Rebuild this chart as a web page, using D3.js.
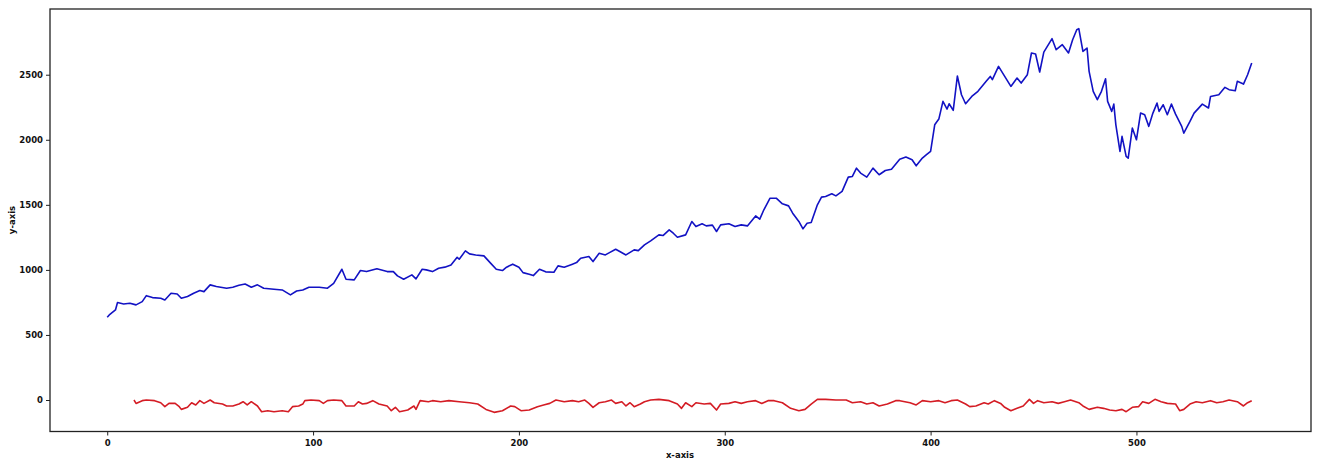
<!DOCTYPE html>
<html>
<head>
<meta charset="utf-8">
<script src="https://cdn.jsdelivr.net/npm/d3@7"></script>
<style>
  body { margin: 0; background: #fff; }
  svg text { font-family: "DejaVu Sans", sans-serif; }
</style>
</head>
<body>
<svg id="chart" width="1319" height="459"></svg>
<script>
// blue series (index, value)
var blueIdx = [0,1,4,5,8,11,14,17,19,22,26,28,31,34,36,39,42,45,47,50,53,58,61,64,67,70,73,76,81,85,89,92,95,98,103,107,110,114,116,120,123,126,131,136,139,141,144,148,150,153,155,158,161,164,167,170,171,174,176,179,183,186,189,192,194,197,200,202,205,207,210,213,217,219,222,226,228,230,234,236,239,242,244,247,249,252,256,258,261,264,268,270,273,275,277,281,284,286,289,291,294,296,298,302,305,308,311,315,317,319,322,325,328,331,333,336,338,340,342,345,347,349,352,354,357,360,362,364,366,369,372,375,378,381,385,388,391,393,396,398,400,402,404,406,408,409,411,413,415,417,420,423,427,429,430,433,436,439,442,444,447,449,451,453,455,459,461,464,467,469,471,472,474,476,477,479,481,483,485,486,488,489,490,492,493,495,496,498,500,502,504,506,508,510,511,513,515,517,519,522,523,526,528,532,535,536,540,543,545,548,549,552,554,556];
var blueVal = [636,654,692,749,738,744,731,756,802,787,782,769,821,815,782,795,821,841,833,885,872,859,867,882,892,867,885,859,851,846,808,838,846,867,867,859,897,1005,928,923,995,987,1008,987,987,954,928,962,931,1005,1000,987,1013,1021,1038,1097,1082,1146,1123,1115,1108,1056,1005,995,1021,1044,1021,979,967,956,1005,985,982,1031,1021,1044,1056,1090,1103,1064,1128,1115,1133,1159,1141,1115,1154,1148,1192,1223,1269,1264,1308,1282,1251,1269,1372,1333,1354,1338,1344,1295,1346,1354,1333,1346,1338,1415,1390,1462,1551,1551,1508,1492,1436,1372,1315,1359,1364,1500,1559,1564,1585,1569,1603,1713,1718,1782,1744,1713,1782,1731,1764,1774,1851,1867,1846,1800,1859,1885,1910,2115,2159,2295,2236,2277,2226,2490,2346,2277,2333,2372,2449,2487,2462,2564,2487,2410,2474,2436,2500,2667,2659,2521,2674,2777,2692,2731,2667,2769,2846,2854,2679,2705,2526,2372,2308,2372,2469,2295,2218,2274,2115,1910,2026,1872,1859,2090,2000,2205,2192,2103,2205,2282,2218,2269,2192,2274,2197,2103,2051,2141,2205,2274,2244,2333,2346,2403,2385,2377,2449,2428,2500,2590];

// red series (index, value)
var redIdx = [13,14,17,19,23,26,28,30,33,35,36,39,41,43,45,47,50,52,56,58,61,64,66,68,70,73,75,78,81,85,88,90,93,95,96,99,103,105,107,110,114,116,120,122,124,126,129,132,136,138,140,142,146,149,150,152,156,158,162,166,171,176,180,184,188,192,196,198,201,205,209,212,215,218,222,226,229,232,234,236,239,242,245,247,250,252,254,256,259,261,264,268,273,277,279,281,284,286,290,293,296,298,302,305,308,311,315,318,321,324,328,332,336,339,342,345,349,354,359,362,366,369,372,375,379,383,385,390,393,396,400,404,407,410,413,417,419,422,426,428,431,434,436,439,442,445,448,450,452,455,459,462,465,468,472,474,477,481,484,487,490,493,495,498,501,503,506,509,512,515,519,521,523,526,529,532,536,539,542,545,549,552,554,556];
var redVal = [0,-26,-5,0,-5,-21,-51,-26,-26,-51,-72,-56,-21,-38,-5,-26,0,-21,-31,-46,-46,-31,-13,-38,-13,-46,-90,-82,-90,-82,-90,-51,-46,-31,-5,0,-5,-26,-5,0,-5,-46,-46,-13,-31,-26,-5,-31,-46,-82,-56,-90,-77,-46,-72,-5,-13,-5,-13,-5,-13,-21,-31,-72,-95,-82,-46,-51,-82,-77,-51,-38,-26,0,-13,-5,-13,0,-26,-56,-21,-13,0,-26,-13,-46,-21,-51,-31,-13,0,5,-5,-31,-64,-21,-51,-21,-31,-26,-77,-31,-26,-13,-26,-13,-5,-26,-5,-5,-21,-64,-82,-72,-31,5,5,0,0,-21,-13,-31,-21,-46,-31,-5,-5,-21,-38,-5,-13,-5,-21,-5,0,-31,-51,-46,-21,-31,-5,-26,-56,-82,-64,-46,5,-26,-5,-21,-13,-26,-13,0,-21,-46,-72,-56,-64,-77,-82,-72,-90,-56,-51,-13,-26,5,-13,-26,-31,-82,-72,-31,-13,-21,-5,-21,-13,0,-13,-46,-21,-5];

var xTicks = [0, 100, 200, 300, 400, 500];
var yTicks = [0, 500, 1000, 1500, 2000, 2500];

var svg = d3.select("#chart");
var mLeft = 50, mRight = 1311, mTop = 9, mBottom = 431.5;

var x = d3.scaleLinear().domain([-27.8, 584.8]).range([mLeft, mRight]);
var y = d3.scaleLinear().domain([-242, 3005]).range([mBottom, mTop]);

var line = d3.line()
    .x(d => x(d[0]))
    .y(d => y(d[1]));

svg.append("path")
    .datum(d3.zip(blueIdx, blueVal))
    .attr("d", line)
    .attr("fill", "none")
    .attr("stroke", "#1212c4")
    .attr("stroke-width", 1.6)
    .attr("stroke-linejoin", "round");

svg.append("path")
    .datum(d3.zip(redIdx, redVal))
    .attr("d", line)
    .attr("fill", "none")
    .attr("stroke", "#d41c24")
    .attr("stroke-width", 1.6)
    .attr("stroke-linejoin", "round");

// axes
var xAxis = d3.axisBottom(x).tickValues(xTicks).tickFormat(d3.format("d")).tickSize(4).tickPadding(4);
var yAxis = d3.axisLeft(y).tickValues(yTicks).tickFormat(d3.format("d")).tickSize(4).tickPadding(3);

var gx = svg.append("g").attr("transform", "translate(0," + mBottom + ")").call(xAxis);
var gy = svg.append("g").attr("transform", "translate(" + mLeft + ",0)").call(yAxis);

[gx, gy].forEach(function(g) {
    g.select(".domain").remove();
    g.selectAll(".tick line").attr("stroke", "#222").attr("stroke-width", 1);
    g.selectAll(".tick text")
        .attr("fill", "#111")
        .style("font-size", "8.5px")
        .style("font-weight", "bold")
        .style("font-family", "DejaVu Sans, sans-serif");
});

// frame
svg.append("rect")
    .attr("x", mLeft).attr("y", mTop)
    .attr("width", mRight - mLeft).attr("height", mBottom - mTop)
    .attr("fill", "none")
    .attr("stroke", "#222")
    .attr("stroke-width", 1.3);

// labels
svg.append("text")
    .attr("x", 680).attr("y", 458)
    .attr("text-anchor", "middle")
    .style("font-size", "8.5px")
    .style("font-weight", "bold")
    .attr("fill", "#111")
    .text("x-axis");

svg.append("text")
    .attr("transform", "translate(15,220) rotate(-90)")
    .attr("text-anchor", "middle")
    .style("font-size", "8.5px")
    .style("font-weight", "bold")
    .attr("fill", "#111")
    .text("y-axis");
</script>
</body>
</html>
